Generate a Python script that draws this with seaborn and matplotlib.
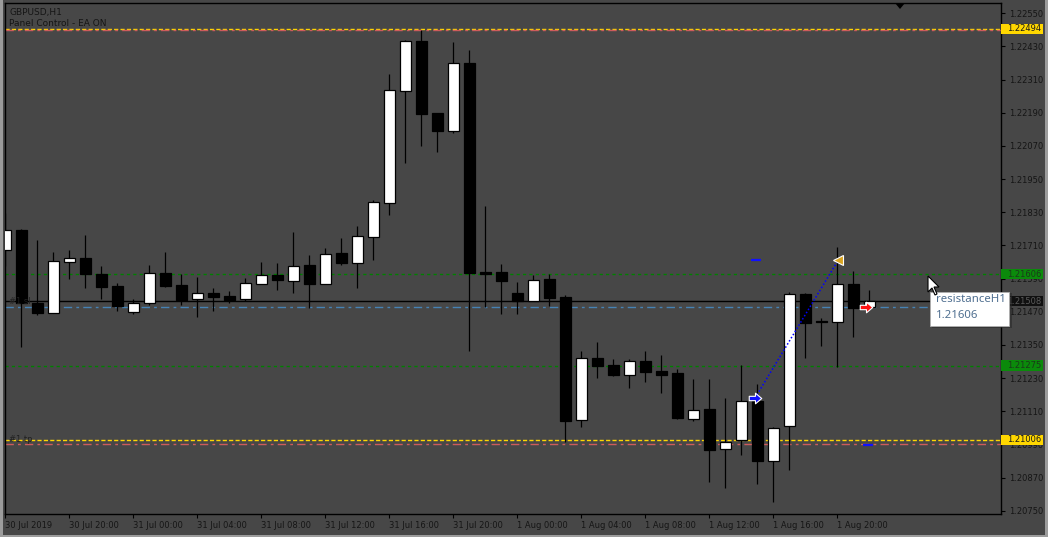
import numpy as np
import pandas as pd
import matplotlib
matplotlib.use("Agg")
import matplotlib.pyplot as plt
import matplotlib.transforms as mtransforms
from matplotlib.patches import Rectangle, Polygon
from matplotlib.path import Path
import seaborn as sns

# ---------------- data (GBPUSD H1, 30 Jul 2019 16:00 .. 1 Aug 2019 22:00) ----------------
opens = [1.21693, 1.21766, 1.21503, 1.21467, 1.21651, 1.21665, 1.21607, 1.21563, 1.21470, 1.21503,
         1.21609, 1.21567, 1.21515, 1.21538, 1.21527, 1.21517, 1.21572, 1.21603, 1.21582, 1.21639,
         1.21572, 1.21683, 1.21647, 1.21742, 1.21865, 1.22270, 1.22450, 1.22189, 1.22125, 1.22370,
         1.21614, 1.21614, 1.21538, 1.21509, 1.21589, 1.21523, 1.21079, 1.21303, 1.21277, 1.21242,
         1.21292, 1.21256, 1.21248, 1.21083, 1.21118, 1.20974, 1.21007, 1.21147, 1.20931, 1.21058,
         1.21534, 1.21437, 1.21434, 1.21570, 1.21486]
highs = [1.21826, 1.21769, 1.21730, 1.21686, 1.21693, 1.21748, 1.21636, 1.21573, 1.21515, 1.21638,
         1.21686, 1.21606, 1.21596, 1.21556, 1.21545, 1.21591, 1.21650, 1.21646, 1.21759, 1.21675,
         1.21701, 1.21737, 1.21780, 1.21874, 1.22330, 1.22453, 1.22490, 1.22189, 1.22447, 1.22417,
         1.21853, 1.21643, 1.21578, 1.21603, 1.21607, 1.21531, 1.21328, 1.21361, 1.21299, 1.21299,
         1.21328, 1.21314, 1.21263, 1.21227, 1.21227, 1.21158, 1.21277, 1.21209, 1.21053, 1.21541,
         1.21537, 1.21447, 1.21704, 1.21617, 1.21549]
lows = [1.21636, 1.21344, 1.21458, 1.21465, 1.21590, 1.21556, 1.21517, 1.21474, 1.21463, 1.21494,
        1.21558, 1.21494, 1.21452, 1.21474, 1.21503, 1.21509, 1.21570, 1.21549, 1.21539, 1.21482,
        1.21570, 1.21639, 1.21556, 1.21657, 1.21820, 1.22009, 1.22071, 1.22049, 1.22118, 1.21328,
        1.21488, 1.21462, 1.21462, 1.21509, 1.21491, 1.21000, 1.21054, 1.21230, 1.21237, 1.21194,
        1.21216, 1.21176, 1.21082, 1.21075, 1.20854, 1.20832, 1.20952, 1.20847, 1.20782, 1.20897,
        1.21304, 1.21346, 1.21271, 1.21380, 1.21486]
closes = [1.21766, 1.21503, 1.21467, 1.21654, 1.21665, 1.21607, 1.21561, 1.21491, 1.21501, 1.21609,
          1.21564, 1.21514, 1.21537, 1.21523, 1.21512, 1.21573, 1.21602, 1.21585, 1.21634, 1.21570,
          1.21678, 1.21646, 1.21743, 1.21866, 1.22271, 1.22449, 1.22187, 1.22124, 1.22369, 1.21610,
          1.21607, 1.21581, 1.21508, 1.21585, 1.21520, 1.21075, 1.21303, 1.21274, 1.21241, 1.21292,
          1.21252, 1.21241, 1.21085, 1.21114, 1.20970, 1.20999, 1.21147, 1.20931, 1.21049, 1.21534,
          1.21430, 1.21432, 1.21570, 1.21484, 1.21509]

xtick_bars = [0, 4, 8, 12, 16, 20, 24, 28, 32, 36, 40, 44, 48, 52]
xtick_labels = ["30 Jul 2019", "30 Jul 20:00", "31 Jul 00:00", "31 Jul 04:00", "31 Jul 08:00",
                "31 Jul 12:00", "31 Jul 16:00", "31 Jul 20:00", "1 Aug 00:00", "1 Aug 04:00",
                "1 Aug 08:00", "1 Aug 12:00", "1 Aug 16:00", "1 Aug 20:00"]
ytick_values = [1.22550, 1.22430, 1.22310, 1.22190, 1.22070, 1.21950, 1.21830, 1.21710,
                1.21590, 1.21470, 1.21350, 1.21230, 1.21110, 1.20990, 1.20870, 1.20750]

yellow_levels = [1.22494, 1.21006]
red_levels = [1.22488, 1.20991]
green_levels = [1.21606, 1.21275]
bid_price = 1.21508
sl_line_price = 1.21487

trade_x = [46.85, 52.05]
trade_y = [1.21158, 1.21657]
exit_x = [53.8]
exit_y = [1.21487]
marks_x = [46.9, 53.9]
marks_y = [1.21657, 1.20987]

# ---------------- styling ----------------
BG = "#474747"
W, H = 1048, 537
sns.set_theme(style="dark", rc={"axes.facecolor": BG, "figure.facecolor": BG})
plt.rcParams['font.family'] = ['DejaVu Sans']

fig = plt.figure(figsize=(W / 100, H / 100), dpi=100)
ax = fig.add_axes([5 / W, (H - 514) / H, 996 / W, 511 / H])
ax.set_facecolor(BG)

df = pd.DataFrame({"o": opens, "h": highs, "l": lows, "c": closes})
df["x"] = np.arange(len(df))
df["bull"] = df["c"] >= df["o"]
min_h = 0.00003
df["bottom"] = df[["o", "c"]].min(axis=1)
df["height"] = (df["c"] - df["o"]).abs().clip(lower=min_h)

# wicks
ax.vlines(df["x"], df["l"], df["h"], color="black", lw=0.9, zorder=3)
# bodies
for bull, sub in df.groupby("bull"):
    ax.bar(sub["x"], sub["height"], bottom=sub["bottom"], width=0.66,
           color="white" if bull else "black", edgecolor="black", linewidth=0.9, zorder=4)

# horizontal levels
for p in yellow_levels:
    ax.axhline(p, color="#FFD700", lw=1.0, ls=(0, (3, 1.6)), zorder=2)
for p in red_levels:
    ax.axhline(p, color="#CD5C5C", lw=1.0, ls=(0, (6, 3, 2, 3)), zorder=2)
for p in green_levels:
    ax.axhline(p, color="#008000", lw=1.0, ls=(0, (2.3, 2.3)), zorder=2)
ax.axhline(bid_price, color="black", lw=1.0, zorder=2)
ax.axhline(sl_line_price, color="#4682B4", lw=1.0, ls=(0, (6, 3, 2, 3)), zorder=2)

# trade line and markers
sns.lineplot(x=trade_x, y=trade_y, ax=ax, color="#0000FF", lw=1.1, ls=(0, (1, 1.4)), zorder=5)
arrow_path = Path([(-1, -0.35), (0, -0.35), (0, -0.85), (1, 0), (0, 0.85), (0, 0.35), (-1, 0.35), (-1, -0.35)],
                  [Path.MOVETO] + [Path.LINETO] * 6 + [Path.CLOSEPOLY])
ax.plot([trade_x[0]], [trade_y[0]], marker=arrow_path, ms=9, mfc="#1010FF", mec="white", mew=0.8, zorder=6, ls="none")
ax.plot([trade_x[1]], [trade_y[1]], marker="<", ms=7, mfc="#DAA520", mec="white", mew=0.8, zorder=6, ls="none")
ax.plot(exit_x, exit_y, marker=arrow_path, ms=9, mfc="#FF1010", mec="white", mew=0.8, zorder=6, ls="none")
ax.plot(marks_x, marks_y, marker="_", ms=7, mew=1.6, color="#1010FF", zorder=6, ls="none")

# axes limits
ax.set_xlim(-0.03, 62.22)
ax.set_ylim(1.20738, 1.22587)

# ticks
ax.set_xticks(xtick_bars)
ax.set_xticklabels(xtick_labels, ha="left", fontsize=6, color="#151515")
ax.tick_params(axis="x", direction="out", length=3, width=0.8, color="black", pad=2, bottom=True)
ax.yaxis.tick_right()
ax.set_yticks(ytick_values)
ax.set_yticklabels([f"{v:.5f}" for v in ytick_values], fontsize=6, color="#151515")
ax.tick_params(axis="y", direction="out", length=3, width=0.8, color="black", pad=3, right=True, left=False)
ax.grid(False)
for s in ax.spines.values():
    s.set_color("black")
    s.set_linewidth(1.0)
    s.set_visible(True)

# price labels on the right axis
blend = mtransforms.blended_transform_factory(ax.transAxes, ax.transData)
box_w = 42 / 996
half = 5.2 * (1.22587 - 1.20738) / 511
price_labels = [(yellow_levels[0], "#FFD700", "#1a1a1a"), (yellow_levels[1], "#FFD700", "#1a1a1a"),
                (green_levels[0], "#0B8A0B", "#1a3a1a"), (green_levels[1], "#0B8A0B", "#1a3a1a"),
                (bid_price, "#101010", "#5a5a5a")]
for p, fc, tc in price_labels:
    ax.add_patch(Rectangle((1.0, p - half), box_w, 2 * half, transform=blend, fc=fc, ec="none",
                           clip_on=False, zorder=10))
    ax.text(1.0 + 6 / 996, p, f"{p:.5f}", transform=blend, fontsize=6, color=tc, va="center",
            ha="left", clip_on=False, zorder=11)

# chart texts
fig.text(9 / W, 1 - 12 / H, "GBPUSD,H1", fontsize=6.5, color="#151515", va="center", ha="left")
fig.text(9 / W, 1 - 24 / H, "Panel Control - EA ON", fontsize=6.5, color="#151515", va="center", ha="left")
ax.text(0.2, bid_price, "#1 sl", fontsize=6, color="#202020", va="center", ha="left", zorder=7)
ax.text(0.2, yellow_levels[1], "#1 tp", fontsize=6, color="#202020", va="center", ha="left", zorder=7)

def fx(px):
    return px / W

def fy(py):
    return 1 - py / H

# window frame strips
fig.patches.append(Rectangle((0, 0), fx(3), 1, transform=fig.transFigure, fc="#9c9c9c", ec="none"))
fig.patches.append(Rectangle((0, 0), 1, 2 / H, transform=fig.transFigure, fc="#9c9c9c", ec="none"))
fig.patches.append(Rectangle((fx(1045), 0), fx(3), 1, transform=fig.transFigure, fc="#9c9c9c", ec="none"))

# chart shift marker
fig.patches.append(Polygon([(fx(895), fy(3)), (fx(905), fy(3)), (fx(900), fy(9))], closed=True,
                           transform=fig.transFigure, fc="black", ec="none"))

# tooltip
fig.patches.append(Rectangle((fx(932), fy(328)), fx(80), 35 / H, transform=fig.transFigure,
                             fc="#2a2a2a", ec="none", alpha=0.6, zorder=20))
fig.patches.append(Rectangle((fx(930), fy(326)), fx(79), 34 / H, transform=fig.transFigure,
                             fc="white", ec="#b0b0b0", lw=0.6, zorder=21))
fig.text(fx(936), fy(300), "resistanceH1", fontsize=8.2, color="#4f6f90", va="center", ha="left",
         family=["Noto Sans", "DejaVu Sans"], zorder=22)
fig.text(fx(936), fy(316), "1.21606", fontsize=8.2, color="#4f6f90", va="center", ha="left",
         family=["Noto Sans", "DejaVu Sans"], zorder=22)

# mouse cursor
cur = [(0, 0), (0, 16), (4, 12), (7, 19), (9, 18), (6, 11), (11, 11)]
fig.patches.append(Polygon([(fx(928 + dx), fy(276 + dy)) for dx, dy in cur], closed=True,
                           transform=fig.transFigure, fc="white", ec="black", lw=0.8, zorder=25))

fig.savefig("out.png", dpi=100, facecolor=BG)
